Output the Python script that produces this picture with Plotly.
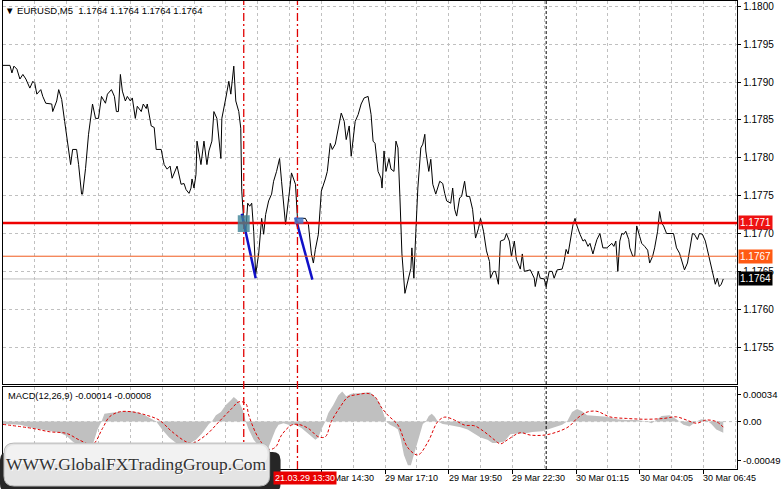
import plotly.graph_objects as go

W, H = 781, 489

# ---------------- data ----------------
bar = [
    0, 3.5, 4.5, 5.5, 7, 8.5, 10, 11.5, 13.5, 15,
    16, 17, 19, 20, 21.5, 24.5, 25, 27, 28, 29.5,
    31, 32.5, 34, 35, 37, 38, 39.5, 40, 41.5, 43,
    45, 46.5, 48, 49.5, 51.5, 52.5, 54.5, 56, 57, 58,
    59, 60, 61.5, 62.5, 64, 65, 66.5, 67.5, 69.5, 70.5,
    72, 72.5, 74.5, 76, 77, 79.5, 81, 82.5, 84, 85,
    87.5, 89.5, 91, 92, 93.5, 94.5, 95, 96, 97, 97.5,
    98.5, 99.5, 101, 102.5, 103.5, 105, 106, 107.5, 109.5, 110,
    112, 113.5, 114.5, 116, 117, 118.5, 119.5, 120, 121, 122,
    123, 124, 125, 126, 127, 128.5, 130, 131, 132, 133.5,
    135, 136, 137.5, 139, 140, 142, 144, 145, 147, 148,
    149.5, 152, 153.5, 155, 156, 157, 158.5, 160, 162, 163,
    164.5, 165.5, 167, 168.5, 170, 171.5, 172.5, 174, 175, 177,
    178.5, 180, 181.5, 183.5, 185, 186, 187, 188.5, 190, 190.5,
    191.5, 192.5, 194, 195, 196.5, 197.5, 198.5, 199.5, 200.5, 202,
    203.5, 205, 205.5, 206.5, 207.5, 208.5, 210, 211, 212, 212.5,
    214, 215, 216, 217.5, 219.5, 221, 222, 223, 225, 226,
    227, 228, 229.5, 230.5, 232, 233, 234.5, 236, 237.5, 239,
    240, 241.5, 243, 244.5, 245, 246.5, 247.5, 249, 250, 252,
    253, 254.5, 255.5, 257, 258, 260, 261, 262, 265, 267,
    267.5, 269, 270, 272, 273, 274.5, 276, 277, 278.5, 281,
    282, 283, 284, 285, 286.5, 287.5, 288.5, 290, 291.5, 292.5,
    294, 295, 296.5, 297.5, 298.5, 300, 301.5, 303.5, 306, 307,
    308, 309, 310, 311, 312, 313, 314.5, 315, 316.5, 317.5,
    318.5, 320, 321, 322.5, 324, 325, 326.5, 327.5, 329, 330,
    331, 332, 333.5, 337, 338.5, 340, 341.5, 342.5, 344, 345,
    346.5, 347.5, 349, 350, 351.5, 353, 354.5, 356, 357, 358,
    359, 360, 361, 362,
]
close = [
    1.17922, 1.17922, 1.17912, 1.17921, 1.17917, 1.17904, 1.17910, 1.17904, 1.17892, 1.17901,
    1.17898, 1.17884, 1.17890, 1.17881, 1.17872, 1.17871, 1.17861, 1.17875, 1.17890, 1.17877,
    1.17848, 1.17822, 1.17791, 1.17811, 1.17811, 1.17791, 1.17752, 1.17752, 1.17786, 1.17831,
    1.17871, 1.17852, 1.17852, 1.17881, 1.17872, 1.17884, 1.17890, 1.17881, 1.17861, 1.17861,
    1.17910, 1.17888, 1.17875, 1.17881, 1.17875, 1.17879, 1.17852, 1.17868, 1.17861, 1.17871,
    1.17865, 1.17871, 1.17842, 1.17840, 1.17811, 1.17811, 1.17791, 1.17785, 1.17789, 1.17773,
    1.17789, 1.17765, 1.17766, 1.17758, 1.17753, 1.17760, 1.17772, 1.17760, 1.17778, 1.17822,
    1.17805, 1.17791, 1.17822, 1.17791, 1.17809, 1.17822, 1.17861, 1.17852, 1.17799, 1.17852,
    1.17879, 1.17901, 1.17884, 1.17921, 1.17875, 1.17861, 1.17839, 1.17756, 1.17716, 1.17703,
    1.17740, 1.17736, 1.17740, 1.17703, 1.17646, 1.17673, 1.17720, 1.17699, 1.17725, 1.17743,
    1.17752, 1.17769, 1.17782, 1.17799, 1.17769, 1.17712, 1.17756, 1.17780, 1.17765, 1.17720,
    1.17720, 1.17720, 1.17712, 1.17673, 1.17661, 1.17679, 1.17699, 1.17756, 1.17772, 1.17782,
    1.17819, 1.17811, 1.17818, 1.17838, 1.17859, 1.17848, 1.17824, 1.17842, 1.17802, 1.17848,
    1.17857, 1.17871, 1.17879, 1.17881, 1.17857, 1.17822, 1.17819, 1.17782, 1.17773, 1.17760,
    1.17809, 1.17782, 1.17799, 1.17785, 1.17782, 1.17822, 1.17813, 1.17747, 1.17673, 1.17621,
    1.17637, 1.17654, 1.17681, 1.17641, 1.17703, 1.17760, 1.17813, 1.17818, 1.17831, 1.17809,
    1.17782, 1.17798, 1.17765, 1.17752, 1.17769, 1.17766, 1.17753, 1.17743, 1.17740, 1.17760,
    1.17732, 1.17723, 1.17747, 1.17749, 1.17769, 1.17749, 1.17749, 1.17732, 1.17694, 1.17707,
    1.17720, 1.17703, 1.17677, 1.17663, 1.17641, 1.17650, 1.17650, 1.17633, 1.17690, 1.17692,
    1.17700, 1.17690, 1.17670, 1.17690, 1.17666, 1.17653, 1.17673, 1.17650, 1.17652, 1.17641,
    1.17630, 1.17650, 1.17641, 1.17640, 1.17630, 1.17650, 1.17650, 1.17641, 1.17652, 1.17653,
    1.17663, 1.17679, 1.17673, 1.17687, 1.17712, 1.17720, 1.17710, 1.17699, 1.17690, 1.17692,
    1.17683, 1.17687, 1.17673, 1.17683, 1.17692, 1.17700, 1.17681, 1.17681, 1.17687, 1.17683,
    1.17690, 1.17650, 1.17690, 1.17700, 1.17699, 1.17703, 1.17692, 1.17681, 1.17670, 1.17670,
    1.17710, 1.17696, 1.17687, 1.17683, 1.17678, 1.17661, 1.17670, 1.17681, 1.17703, 1.17729,
    1.17714, 1.17710, 1.17700, 1.17700, 1.17681, 1.17674, 1.17661, 1.17652, 1.17661, 1.17677,
    1.17700, 1.17699, 1.17692, 1.17700, 1.17699, 1.17690, 1.17673, 1.17657, 1.17644, 1.17633,
    1.17641, 1.17630, 1.17633, 1.17640,
]
assert len(bar) == len(close)

macd_bar = [
    0, 8.5, 15, 23.5, 28.5, 32, 35, 38.5, 42, 45,
    47.5, 49.5, 51, 53.5, 57, 61, 65, 68.5, 72, 75,
    77, 80, 83.5, 87, 90, 93.5, 97, 100, 103.5, 105,
    107, 109.5, 112, 114.5, 116, 117.5, 119, 120.5, 122, 123.5,
    126, 128.5, 131, 133.5, 135, 137, 138.5, 141, 143.5, 147,
    150, 153.5, 157, 158.5, 160, 162, 163.5, 166, 168.5, 170.5,
    172.5, 175, 178.5, 182, 184.5, 187, 189.5, 191, 192.5, 194.5,
    197, 198.5, 200, 201.5, 203.5, 205, 206.5, 208, 209.5, 211,
    212.5, 214, 215.5, 217, 218.5, 221, 223.5, 227, 230, 233.5,
    237, 240, 243.5, 246, 248.5, 252, 255, 258.5, 262, 266,
    271, 276, 281, 283.5, 286, 288.5, 291, 293.5, 298.5, 303.5,
    308.5, 313.5, 318.5, 323.5, 326, 328.5, 331, 335, 338.5, 342,
    345, 348.5, 351, 353.5, 356, 358.5, 362,
]
macd_main = [
    -0.00003, -0.00004, -0.00008, -0.00012, -0.00014, -0.00018, -0.00025, -0.00031, -0.00033, -0.00030,
    -0.00010, 0.0, 0.00010, 0.00011, 0.00012, 0.00013, 0.00013, 0.00011, 0.00007, 0.00003,
    0.0, -0.00010, -0.00020, -0.00027, -0.00030, -0.00028, -0.00023, -0.00015, -0.00003, 0.0,
    0.00008, 0.00012, 0.00021, 0.00027, 0.00031, 0.00028, 0.00023, 0.00015, 0.0, -0.00010,
    -0.00023, -0.00030, -0.00032, -0.00032, -0.00023, -0.00010, -0.00004, -0.00002, -0.00004, -0.00004,
    -0.00008, -0.00015, -0.00023, -0.00020, -0.00010, 0.0, 0.00011, 0.00021, 0.00033, 0.00038,
    0.00032, 0.00035, 0.00036, 0.00037, 0.00037, 0.00031, 0.00023, 0.00012, 0.0, -0.00004,
    -0.00007, -0.00010, -0.00023, -0.00042, -0.00055, -0.00055, -0.00042, -0.00026, -0.00013, -0.00003,
    0.0, 0.00007, 0.00010, 0.00006, 0.0, -0.00003, -0.00004, -0.00006, -0.00007, -0.00010,
    -0.00015, -0.00020, -0.00023, -0.00027, -0.00027, -0.00025, -0.00016, -0.00015, -0.00015, -0.00013,
    -0.00012, -0.00008, -0.00004, 0.0, 0.00012, 0.00016, 0.00013, 0.00008, 0.00007, 0.00006,
    0.00003, 0.00002, 0.00002, 0.0, -0.00002, 0.00003, 0.00007, 0.00008, 0.00003, -0.00004,
    -0.00006, 0.0, 0.00003, 0.00002, -0.00003, -0.00010, -0.00014,
]
assert len(macd_bar) == len(macd_main)

signal_bar = [
    0, 15, 23.5, 32, 38.5, 45, 50, 53.5, 58.5, 65,
    72, 78.5, 85, 92, 95, 102, 108.5, 115, 118.5, 122,
    123.5, 128.5, 133.5, 137, 140, 145, 148.5, 153.5, 158.5, 162,
    165, 169.5, 173.5, 178.5, 183.5, 187, 190, 193.5, 198.5, 203.5,
    208.5, 213.5, 218.5, 222, 227, 232, 237, 242, 247, 250,
    253.5, 260, 265, 272, 278.5, 284.5, 288.5, 293.5, 298.5, 305,
    313.5, 323.5, 332, 338.5, 343.5, 348.5, 353.5, 358.5, 362,
]
macd_signal = [
    -0.000035, -0.000086, -0.000128, -0.000149, -0.000233, -0.000287, -0.000086, 0.00006, 0.000123, 0.000123,
    0.000082, 0.000019, -0.000128, -0.000254, -0.000274, -0.00017, -0.000003, 0.000166, 0.000249, 0.000229,
    0.000082, -0.000211, -0.00035, -0.00032, -0.00017, -0.000044, -0.000035, -0.000086, -0.000191, -0.000191,
    0.0, 0.000186, 0.000312, 0.000342, 0.000355, 0.000312, 0.000186, 0.00008, -0.000044, -0.00033,
    -0.00042, -0.00026, 0.0, 0.000057, 0.000019, -0.000044, -0.000053, -0.00013, -0.00023, -0.00028,
    -0.00023, -0.00014, -0.00017, -0.00017, -0.00013, -0.00006, 0.00004, 0.00012, 0.00013, 0.00006,
    0.00004, 0.00003, 0.00004, 0.00006, 0.00002, -0.00002, 0.00002, 0.0, -0.00007,
]
assert len(signal_bar) == len(macd_signal)

price_ticks = [1.1755, 1.1760, 1.1765, 1.1770, 1.1775, 1.1780, 1.1785, 1.1790, 1.1795, 1.1800]
macd_ticks = [0.00034, 0.0, -0.00049]
macd_ticktext = ["0.00034", "0.00", "-0.00049"]

time_label_bars = [160, 192, 224, 256, 288, 320, 352]
time_labels = ["29 Mar 14:30", "29 Mar 17:10", "29 Mar 19:50", "29 Mar 22:30",
               "30 Mar 01:15", "30 Mar 04:05", "30 Mar 06:45"]

level_red = 1.17714
level_orange = 1.1767
last_price = 1.1764
vline_red_bars = [121, 148]
vline_black_bar = 273
marked_bar_label = "21.03.29 13:30"

seg_bars = [[120, 127], [147, 155.5]]
seg_prices = [[1.17726, 1.17641], [1.17721, 1.17639]]
box_bars = [[118, 124], [146.5, 151]]
box_prices = [[1.17702, 1.17724], [1.17713, 1.17721]]

header = "▼ EURUSD,M5  1.1764 1.1764 1.1764 1.1764"
macd_title = "MACD(12,26,9) -0.00014 -0.00008"
watermark = "WWW.GlobalFXTradingGroup.Com"

# ---------------- figure ----------------
FONT = "Liberation Sans"
GRID = "#c0c0c0"
GRID_DASH = "3px,3px"
XL, XR = 3 / W, 741 / W
X_RANGE = [0, 369]


def px(x):
    return x / W


def py(y):
    return 1 - y / H


fig = go.Figure()

# MACD histogram (filled area to zero)
fig.add_trace(go.Scatter(x=macd_bar, y=macd_main, mode="lines", line=dict(width=0, color="#c0c0c0"),
                         fill="tozeroy", fillcolor="#c0c0c0", xaxis="x2", yaxis="y2",
                         hoverinfo="skip", showlegend=False))
fig.add_trace(go.Scatter(x=signal_bar, y=macd_signal, mode="lines",
                         line=dict(width=1, color="#dd0000", dash="3px,2px", shape="spline"),
                         xaxis="x2", yaxis="y2", showlegend=False))

# price line
fig.add_trace(go.Scatter(x=bar, y=close, mode="lines", line=dict(width=1, color="black"),
                         xaxis="x", yaxis="y", showlegend=False))

# blue segments
for b, p in zip(seg_bars, seg_prices):
    fig.add_trace(go.Scatter(x=b, y=p, mode="lines", line=dict(width=2.5, color="#1010c8"),
                             xaxis="x", yaxis="y", showlegend=False))

shapes = []
shapes.append(dict(type="line", xref="x domain", yref="y", x0=0, x1=1, y0=last_price, y1=last_price,
                   line=dict(color="#c0c0c0", width=1), layer="below"))
shapes.append(dict(type="line", xref="x domain", yref="y", x0=0, x1=1, y0=level_orange, y1=level_orange,
                   line=dict(color="#f05a1e", width=1)))
shapes.append(dict(type="line", xref="x domain", yref="y", x0=0, x1=1, y0=level_red, y1=level_red,
                   line=dict(color="#ee0000", width=2.5)))
shapes.append(dict(type="line", xref="x2 domain", yref="y2", x0=0, x1=1, y0=0, y1=0,
                   line=dict(color=GRID, width=1, dash=GRID_DASH), layer="below"))
for vb in vline_red_bars:
    shapes.append(dict(type="line", xref="x", yref="paper", x0=vb, x1=vb, y0=py(469), y1=1,
                       line=dict(color="#e00000", width=1.3, dash="8px,3px,2px,3px")))
shapes.append(dict(type="line", xref="x", yref="paper", x0=vline_black_bar, x1=vline_black_bar,
                   y0=py(469), y1=1, line=dict(color="black", width=1, dash="3px,2px")))
shapes.append(dict(type="rect", xref="x", yref="y", x0=box_bars[0][0], x1=box_bars[0][1],
                   y0=box_prices[0][0], y1=box_prices[0][1], fillcolor="rgba(60,130,150,0.8)",
                   line=dict(width=0)))
shapes.append(dict(type="rect", xref="x", yref="y", x0=box_bars[1][0], x1=box_bars[1][1],
                   y0=box_prices[1][0], y1=box_prices[1][1], fillcolor="rgba(70,120,200,0.85)",
                   line=dict(width=0)))


def rrect(x0, y0, x1, y1, r):
    pts = [
        f"M {px(x0 + r)},{py(y0)}", f"L {px(x1 - r)},{py(y0)}",
        f"Q {px(x1)},{py(y0)} {px(x1)},{py(y0 + r)}", f"L {px(x1)},{py(y1 - r)}",
        f"Q {px(x1)},{py(y1)} {px(x1 - r)},{py(y1)}", f"L {px(x0 + r)},{py(y1)}",
        f"Q {px(x0)},{py(y1)} {px(x0)},{py(y1 - r)}", f"L {px(x0)},{py(y0 + r)}",
        f"Q {px(x0)},{py(y0)} {px(x0 + r)},{py(y0)}", "Z",
    ]
    return " ".join(pts)


shapes.append(dict(type="path", xref="paper", yref="paper", path=rrect(0, 452, 282, 492, 8),
                   fillcolor="#262626", line=dict(width=0), layer="above"))
shapes.append(dict(type="path", xref="paper", yref="paper", path=rrect(4, 443, 271, 486, 10),
                   fillcolor="#e4e4e4", line=dict(color="#b8b8b8", width=1), layer="above"))
shapes.append(dict(type="path", xref="paper", yref="paper", path=rrect(6, 445, 269, 464, 9),
                   fillcolor="#f2f2f2", line=dict(width=0), layer="above"))

annotations = []
annotations.append(dict(xref="paper", yref="paper", x=px(3), y=py(10), xanchor="left", yanchor="middle",
                        text=header, showarrow=False, font=dict(family=FONT, size=9.5, color="black")))
annotations.append(dict(xref="paper", yref="paper", x=px(6), y=py(396), xanchor="left", yanchor="middle",
                        text=macd_title, showarrow=False, font=dict(family=FONT, size=9.3, color="black")))
for tb, tl in zip(time_label_bars, time_labels):
    annotations.append(dict(xref="x2", yref="paper", x=tb, y=py(478), xanchor="left", yanchor="middle",
                            text=tl, showarrow=False, xshift=-2,
                            font=dict(family=FONT, size=9, color="black")))
annotations.append(dict(xref="paper", yref="paper", x=px(274), y=py(478), xanchor="left", yanchor="middle",
                        text=marked_bar_label, showarrow=False, bgcolor="#e80000", borderpad=1,
                        font=dict(family=FONT, size=9, color="white")))
for val, bg in [(level_red, "#ee1111"), (level_orange, "#ff5a14"), (last_price, "#000000")]:
    annotations.append(dict(xref="paper", yref="y", x=px(742), y=val, xanchor="left", yanchor="middle",
                            text=f"{val:.4f}", showarrow=False, bgcolor=bg, borderpad=1,
                            font=dict(family=FONT, size=10, color="white")))
annotations.append(dict(xref="paper", yref="paper", x=px(137), y=py(464), xanchor="center", yanchor="middle",
                        text=watermark, showarrow=False, xshift=1, yshift=-1,
                        font=dict(family="Liberation Serif", size=17.5, color="#ffffff")))
annotations.append(dict(xref="paper", yref="paper", x=px(137), y=py(464), xanchor="center", yanchor="middle",
                        text=watermark, showarrow=False,
                        font=dict(family="Liberation Serif", size=17.5, color="#333333")))

axis_common = dict(showline=True, linecolor="black", linewidth=1, mirror=True, zeroline=False)

fig.update_layout(
    width=W, height=H, margin=dict(l=0, r=0, t=0, b=0),
    paper_bgcolor="white", plot_bgcolor="white", showlegend=False,
    font=dict(family=FONT, size=10, color="black"),
    xaxis=dict(domain=[XL, XR], range=X_RANGE, anchor="y", showticklabels=False,
               tickmode="array", tickvals=list(range(0, 369, 16)), ticks="",
               showgrid=True, gridcolor=GRID, griddash=GRID_DASH, gridwidth=1, **axis_common),
    yaxis=dict(domain=[py(384), 1], range=[1.17501, 1.18007], anchor="x", side="right",
               tickmode="array", tickvals=price_ticks, ticktext=[f"{v:.4f}" for v in price_ticks],
               ticks="outside", ticklen=3, tickcolor="black",
               showgrid=True, gridcolor=GRID, griddash=GRID_DASH, gridwidth=1,
               tickfont=dict(family=FONT, size=10), **axis_common),
    xaxis2=dict(domain=[XL, XR], range=X_RANGE, anchor="y2", showticklabels=False,
                tickmode="array", tickvals=list(range(0, 369, 32)), ticks="outside", ticklen=4,
                tickcolor="black", showgrid=True, gridcolor=GRID, griddash=GRID_DASH, gridwidth=1,
                minor=dict(tickmode="array", tickvals=list(range(16, 369, 32)), showgrid=True,
                           gridcolor=GRID, griddash=GRID_DASH, gridwidth=1, ticks=""),
                **axis_common),
    yaxis2=dict(domain=[py(469), py(387)], range=[-0.000598, 0.000434], anchor="x2", side="right",
                tickmode="array", tickvals=macd_ticks, ticktext=macd_ticktext,
                ticks="outside", ticklen=3, tickcolor="black", showgrid=False,
                tickfont=dict(family=FONT, size=9.5), **axis_common),
    shapes=shapes, annotations=annotations,
)

fig.write_html("out.html", config={"displayModeBar": False},
               post_script="document.body.style.margin='0';document.body.style.overflow='hidden';")
